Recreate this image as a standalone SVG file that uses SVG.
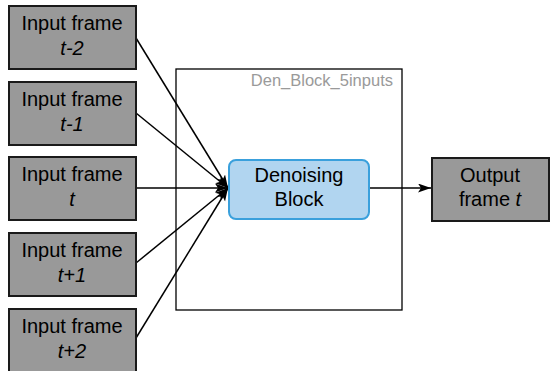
<svg xmlns="http://www.w3.org/2000/svg" width="551" height="371" viewBox="0 0 551 371">
<style>
.frame{fill:#999999;stroke:#1a1a1a;stroke-width:2}
.t{font-family:"Liberation Sans",Arial,sans-serif;font-size:20px;fill:#000;text-anchor:middle}
.i{font-style:italic}
.c{stroke:#000;stroke-width:1.5;fill:none;marker-end:url(#ah)}
</style>
<defs>
<marker id="ah" markerWidth="14" markerHeight="10" refX="13" refY="4.5" orient="auto" markerUnits="userSpaceOnUse">
<path d="M0,0 L13,4.5 L0,9 L3,4.5 Z" fill="#000"/>
</marker>
</defs>
<rect id="container" x="176" y="69" width="226" height="241" fill="#fff" stroke="#000" stroke-width="1.3"/>
<text x="393" y="86" font-family="Liberation Sans,Arial,sans-serif" font-size="16.5" fill="#9a9a9a" text-anchor="end">Den_Block_5inputs</text>
<g id="connectors">
<path class="c" d="M136,38 L228,188"/>
<path class="c" d="M136,113 L228,188"/>
<path class="c" d="M136,188 L228,188"/>
<path class="c" d="M136,263 L228,188"/>
<path class="c" d="M136,338 L228,188"/>
<path class="c" d="M369,188 L431,188"/>
</g>
<g id="in1"><rect class="frame" x="9" y="6" width="127" height="63"/><text class="t" x="72" y="30">Input frame</text><text class="t i" x="72" y="55">t-2</text></g>
<g id="in2"><rect class="frame" x="9" y="82" width="127" height="63"/><text class="t" x="72" y="106">Input frame</text><text class="t i" x="72" y="131">t-1</text></g>
<g id="in3"><rect class="frame" x="9" y="157" width="127" height="63"/><text class="t" x="72" y="181">Input frame</text><text class="t i" x="72" y="206">t</text></g>
<g id="in4"><rect class="frame" x="9" y="233" width="127" height="63"/><text class="t" x="72" y="257">Input frame</text><text class="t i" x="72" y="282">t+1</text></g>
<g id="in5"><rect class="frame" x="9" y="309" width="127" height="63"/><text class="t" x="72" y="333">Input frame</text><text class="t i" x="72" y="358">t+2</text></g>
<g id="denoise"><rect x="229" y="160" width="140" height="59" rx="7" fill="#b1d5f0" stroke="#3aa0dc" stroke-width="2"/><text class="t" x="299" y="182">Denoising</text><text class="t" x="299" y="206">Block</text></g>
<g id="out"><rect class="frame" x="432" y="158" width="117" height="63"/><text class="t" x="490" y="182">Output</text><text class="t" x="490" y="206">frame <tspan class="i">t</tspan></text></g>
</svg>
